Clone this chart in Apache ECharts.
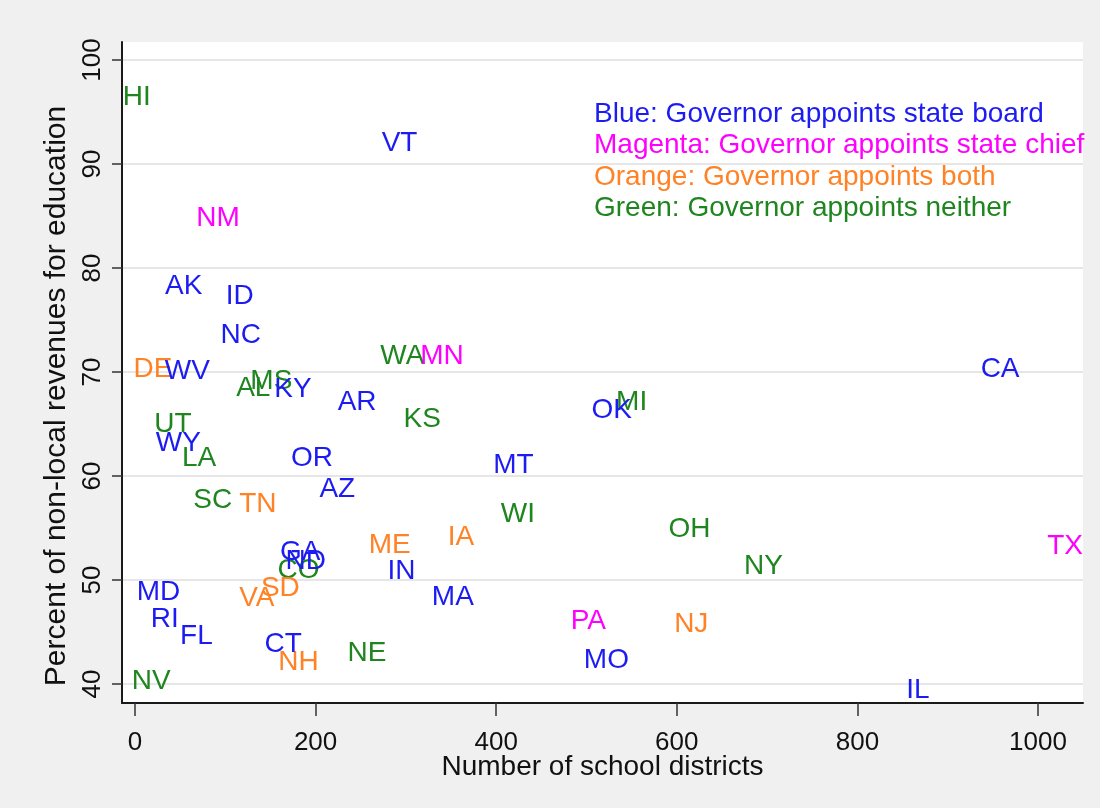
<!DOCTYPE html>
<html>
<head>
<meta charset="utf-8">
<script src="https://cdn.jsdelivr.net/npm/echarts@6/dist/echarts.min.js"></script>
<style>
html,body{margin:0;padding:0;background:#f0f0f0;}
#chart{width:1100px;height:808px;}
</style>
</head>
<body>
<div id="chart"></div>
<script>
// ---- data ----
const blueNames = ['VT','AK','ID','NC','WV','KY','AR','OK','CA','WY','OR','MT','AZ','GA','ND','IN','MA','MD','RI','FL','CT','MO','IL'];
const blueX     = [293, 54, 116, 117, 58, 175, 246, 528, 958, 48, 196, 419, 224, 183, 189, 295, 352, 26, 33, 68, 164, 522, 867];
const blueY     = [92.0, 78.2, 77.3, 73.5, 70.1, 68.3, 67.1, 66.3, 70.3, 63.1, 61.7, 61.0, 58.7, 52.7, 51.8, 50.8, 48.3, 48.8, 46.2, 44.6, 43.8, 42.3, 39.4];

const magentaNames = ['NM','MN','TX','PA'];
const magentaX     = [92, 340, 1030, 502];
const magentaY     = [84.8, 71.5, 53.2, 46.0];

const orangeNames = ['DE','TN','ME','IA','SD','VA','NH','NJ'];
const orangeX     = [20, 136, 282, 361, 161, 135, 181, 616];
const orangeY     = [70.3, 57.3, 53.3, 54.1, 49.2, 48.2, 42.1, 45.7];

const greenNames = ['HI','WA','MS','AL','KS','MI','UT','LA','SC','WI','OH','CO','NY','NE','NV'];
const greenX     = [2, 296, 151, 131, 318, 550, 42, 71, 86, 424, 614, 181, 696, 257, 18];
const greenY     = [96.4, 71.5, 69.1, 68.4, 65.5, 67.1, 65.0, 61.7, 57.7, 56.3, 54.9, 50.9, 51.3, 43.0, 40.3];

const xTicks = [0, 200, 400, 600, 800, 1000];
const yTicks = [40, 50, 60, 70, 80, 90, 100];

const xTitle = 'Number of school districts';
const yTitle = 'Percent of non-local revenues for education';
const legendLines = [
  'Blue: Governor appoints state board',
  'Magenta: Governor appoints state chief',
  'Orange: Governor appoints both',
  'Green: Governor appoints neither'
];

// ---- layout ----
const W = 1100, H = 808;
const plotL = 122, plotR = 1083, plotT = 42, plotB = 703;
const x0px = 135, x1000px = 1038;   // pixel of x=0 and x=1000
const y100px = 60, y40px = 684;     // pixel of y=100 and y=40
const xs = (x1000px - x0px) / (xTicks[xTicks.length-1] - xTicks[0]);
const ys = (y40px - y100px) / (yTicks[yTicks.length-1] - yTicks[0]);
const xMin = xTicks[0] - (x0px - plotL) / xs;
const xMax = xTicks[xTicks.length-1] + (plotR - x1000px) / xs;
const yMax = yTicks[yTicks.length-1] + (y100px - plotT) / ys;
const yMin = yTicks[0] - (plotB - y40px) / ys;

const FONT = 'Liberation Sans, Arial, sans-serif';
const FS_LAB = 28, FS_TICK = 26, FS_TITLE = 28, FS_YTITLE = 30, FS_LEG = 28;

const COLORS = {blue:'#1c1cf2', magenta:'#ff00ff', orange:'#ff8326', green:'#1f861f'};

function mk(names, xv, yv, color){
  return {
    type:'scatter', xAxisIndex:0, yAxisIndex:0,
    symbol:'circle', symbolSize:0, clip:false,
    itemStyle:{color:color, opacity:1},
    label:{show:true, position:'inside', formatter:'{b}', color:color, opacity:1,
           textBorderWidth:0, fontFamily:FONT, fontSize:FS_LAB},
    emphasis:{disabled:true},
    data: names.map((n,i)=>({name:n, value:[xv[i], yv[i]]}))
  };
}

const chart = echarts.init(document.getElementById('chart'), null, {renderer:'canvas'});
const legendColors = [COLORS.blue, COLORS.magenta, COLORS.orange, COLORS.green];

const graphics = legendLines.map((t,i)=>({
  type:'text', x:594, y:114 + i*31.5, z:10,
  style:{text:t, fill:legendColors[i], font:FS_LEG+'px '+FONT, verticalAlign:'middle', align:'left'}
}));
graphics.push({
  type:'text', x:57, y:396, rotation:Math.PI/2, z:10,
  style:{text:yTitle, fill:'#111', font:FS_YTITLE+'px '+FONT, verticalAlign:'middle', align:'center'}
});

chart.setOption({
  backgroundColor:'#f0f0f0',
  animation:false,
  grid:[
    {left:plotL, right:W-plotR, top:plotT, bottom:H-plotB, show:true, backgroundColor:'#ffffff', borderWidth:0},
    {left:plotL, right:W-plotR, top:y100px, bottom:H-y40px},
    {left:x0px, right:W-x1000px, top:plotT, bottom:H-plotB}
  ],
  xAxis:[
    {gridIndex:0, type:'value', min:xMin, max:xMax,
     axisLine:{show:true, onZero:false, lineStyle:{color:'#1a1a1a', width:2}},
     axisTick:{show:false}, axisLabel:{show:false}, splitLine:{show:false},
     name:xTitle, nameLocation:'middle', nameGap:50,
     nameTextStyle:{fontFamily:FONT, fontSize:FS_TITLE, color:'#111'}},
    {gridIndex:1, type:'value', min:0, max:1, show:false},
    {gridIndex:2, type:'value', min:xTicks[0], max:xTicks[xTicks.length-1], interval:200,
     axisLine:{show:false}, splitLine:{show:false},
     axisTick:{show:true, length:13, lineStyle:{color:'#333', width:1.5}},
     axisLabel:{show:true, margin:27, fontFamily:FONT, fontSize:FS_TICK, color:'#111',
                formatter:v=>String(v)}}
  ],
  yAxis:[
    {gridIndex:0, type:'value', min:yMin, max:yMax,
     axisLine:{show:true, onZero:false, lineStyle:{color:'#1a1a1a', width:2}},
     axisTick:{show:false}, axisLabel:{show:false}, splitLine:{show:false}},
    {gridIndex:1, type:'value', min:yTicks[0], max:yTicks[yTicks.length-1], interval:10,
     axisLine:{show:false},
     axisTick:{show:true, length:10, lineStyle:{color:'#333', width:1.5}},
     axisLabel:{show:true, rotate:90, margin:16, fontFamily:FONT, fontSize:FS_TICK, color:'#111'},
     splitLine:{show:true, lineStyle:{color:'#e6e6e6', width:2}}},
    {gridIndex:2, type:'value', min:0, max:1, show:false}
  ],
  graphic: graphics,
  series:[
    mk(greenNames, greenX, greenY, COLORS.green),
    mk(orangeNames, orangeX, orangeY, COLORS.orange),
    mk(magentaNames, magentaX, magentaY, COLORS.magenta),
    mk(blueNames, blueX, blueY, COLORS.blue)
  ]
});
</script>
</body>
</html>
